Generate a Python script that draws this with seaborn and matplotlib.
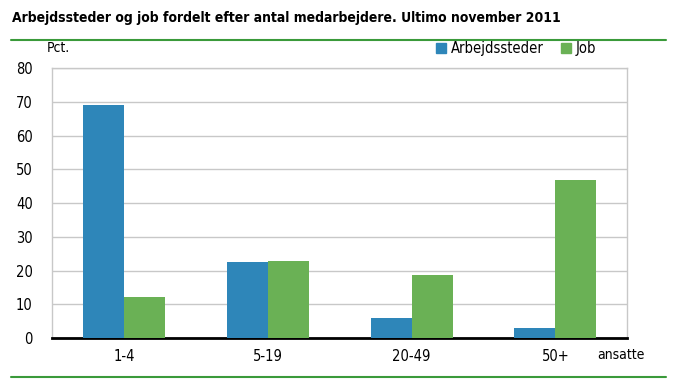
import pandas as pd
import matplotlib.pyplot as plt
import seaborn as sns
from matplotlib.lines import Line2D

sns.set_style('white')
plt.rcParams['font.family'] = ['DejaVu Sans']
plt.rcParams['font.stretch'] = 'condensed'
plt.rcParams['text.color'] = 'black'
plt.rcParams['xtick.color'] = 'black'
plt.rcParams['ytick.color'] = 'black'

categories = ['1-4', '5-19', '20-49', '50+']
arbejdssteder = [69.0, 22.5, 5.8, 2.9]
job = [12.1, 22.7, 18.7, 46.8]

df = pd.DataFrame({
    'Størrelse': categories * 2,
    'Pct': arbejdssteder + job,
    'Serie': ['Arbejdssteder'] * 4 + ['Job'] * 4,
})

colors = {'Arbejdssteder': '#2e86b9', 'Job': '#6ab155'}

fig = plt.figure(figsize=(6.8, 3.89), dpi=100)
ax = fig.add_axes([0.0765, 0.131, 0.846, 0.694])

sns.barplot(data=df, x='Størrelse', y='Pct', hue='Serie', palette=colors,
            width=0.57, saturation=1, linewidth=0, ax=ax, legend=False, zorder=3)

ax.set_xlim(-0.5, 3.5)
ax.set_ylim(0, 80)
ax.set_yticks(range(0, 81, 10))
ax.yaxis.grid(True, color='#c8c8c8', linewidth=1, zorder=0)
ax.set_axisbelow(True)
ax.set_xlabel('')
ax.set_ylabel('')
ax.tick_params(axis='both', length=0, labelsize=10.5)
ax.tick_params(axis='y', pad=14)
ax.tick_params(axis='x', pad=8)
for s in ['left', 'right', 'top']:
    ax.spines[s].set_color('#c8c8c8')
    ax.spines[s].set_linewidth(1)
ax.spines['bottom'].set_color('black')
ax.spines['bottom'].set_linewidth(2)

# title and decorations
fig.text(0.018, 0.955, 'Arbejdssteder og job fordelt efter antal medarbejdere. Ultimo november 2011',
         fontsize=10, fontweight='bold', va='center', ha='left')
fig.add_artist(Line2D([0.016, 0.98], [0.897, 0.897], color='#3a9a3a', linewidth=1.5))
fig.add_artist(Line2D([0.016, 0.98], [0.031, 0.031], color='#3a9a3a', linewidth=1.5))
fig.text(0.069, 0.876, 'Pct.', fontsize=10, va='center', ha='left')
fig.text(0.878, 0.088, 'ansatte', fontsize=10, va='center', ha='left')

handles = [plt.Rectangle((0, 0), 1, 1, color=colors[k]) for k in colors]
fig.legend(handles, list(colors), loc='center right', bbox_to_anchor=(0.885, 0.876),
           ncol=2, frameon=False, fontsize=10.5, handlelength=0.7, handleheight=0.7,
           handletextpad=0.3, columnspacing=1.2, borderaxespad=0)

fig.savefig('out.png', dpi=100)
